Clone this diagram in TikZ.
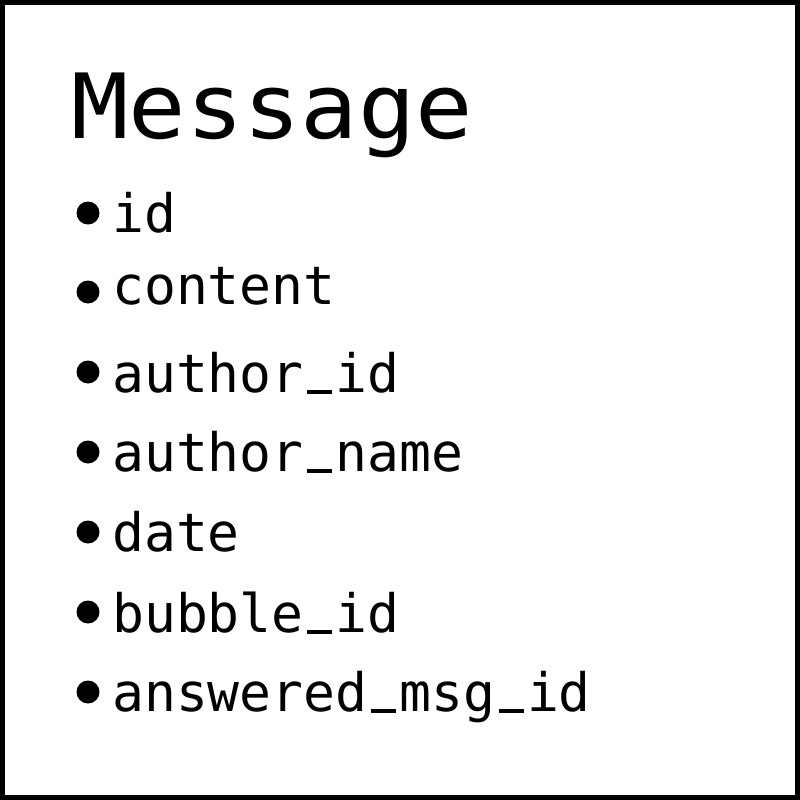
\documentclass[tikz,border=0pt]{standalone}
\usepackage{fontspec}
\setmonofont{DejaVu Sans Mono}
\newfontfamily\titlefont[FakeStretch=1.06]{DejaVu Sans Mono}
% underscore that sits on the baseline
\newcommand\us{\hbox to 0.602em{\hfil\rule[-0.04em]{0.47em}{0.075em}\hfil}}
\begin{document}
\begin{tikzpicture}[x=1pt,y=-1pt]
      \useasboundingbox (0,0) rectangle (800,800);
      \draw[line width=5pt] (2.5,2.5) rectangle (797.5,797.5);
      \node[anchor=base west,inner sep=0pt,font=\titlefont\fontsize{90}{90}\selectfont] (title) at (71,138) {Message};
      \foreach \y/\b/\txt [count=\i] in {232/213/id, 304/292/content, 392/372/author\us id,
          471/452/author\us name, 551/532/date, 632/612/bubble\us id, 711/692/answered\us msg\us id} {%
        \node[circle,fill,inner sep=0pt,minimum size=23pt] (dot\i) at (88,\b) {};
        \node[anchor=base west,inner sep=0pt,font=\ttfamily\fontsize{53}{53}\selectfont] (field\i) at (112,\y) {\txt};
      }
    \end{tikzpicture}
\end{document}
